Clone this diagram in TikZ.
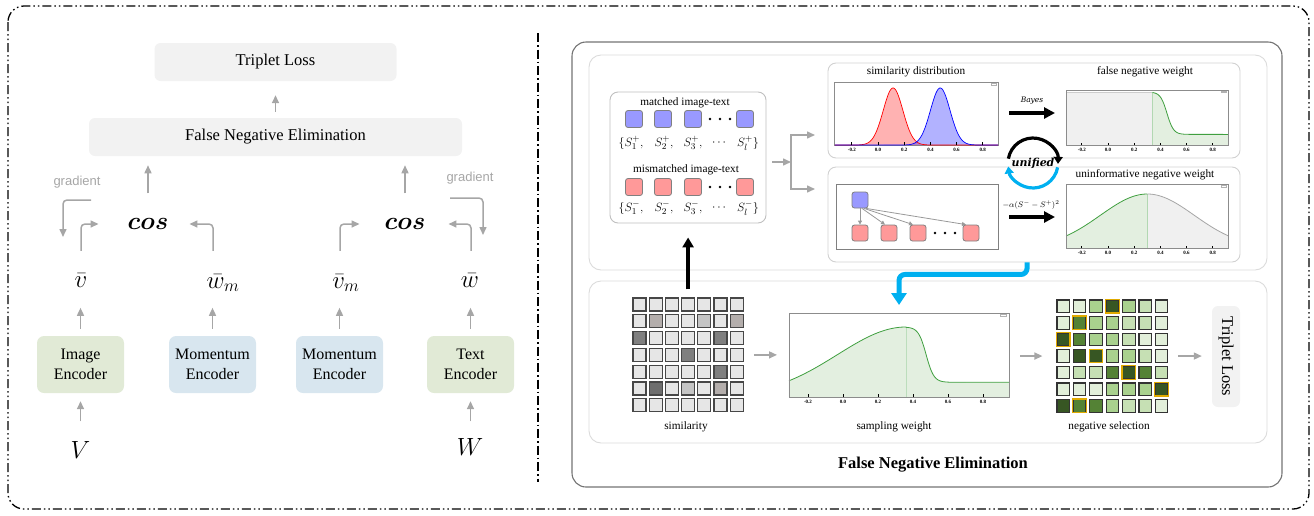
\documentclass[tikz,border=0pt]{standalone}
\usepackage{bm}
\usepackage{fontspec}
\setmainfont{Liberation Serif}
\newfontfamily\gradfont{Liberation Sans}
\newfontfamily\dvs{DejaVu Serif}
\usetikzlibrary{arrows.meta,calc}
\definecolor{agray}{HTML}{A6A6A6}
\definecolor{boxg}{HTML}{F2F2F2}
\definecolor{encg}{HTML}{E1EAD6}
\definecolor{encb}{HTML}{D8E6EF}
\definecolor{sqb}{HTML}{9999FF}
\definecolor{sqr}{HTML}{FF9999}
\definecolor{sqborder}{HTML}{808080}
\definecolor{cyanc}{HTML}{00B0F0}
\definecolor{lgfill}{HTML}{E3EFE0}
\definecolor{gline}{HTML}{3F9F3F}
\definecolor{gA}{HTML}{E2EFDA}
\definecolor{gB}{HTML}{C6E0B4}
\definecolor{gC}{HTML}{A9D18E}
\definecolor{gD}{HTML}{548235}
\definecolor{gE}{HTML}{375623}
\definecolor{sel}{HTML}{E0AA00}
\definecolor{cL}{HTML}{E6E6E6}
\definecolor{cM}{HTML}{B4AEAC}
\definecolor{cN}{HTML}{C4C4C4}
\definecolor{cD}{HTML}{7F7F7F}
\definecolor{cE}{HTML}{6E6E6E}
\tikzset{
 gbox/.style={rounded corners=6pt, fill=boxg, inner sep=0pt},
 encbox/.style={rounded corners=7pt, minimum width=87pt, minimum height=57pt, inner sep=0pt, align=center, font=\fontsize{16}{20}\selectfont},
 garrow/.style={draw=agray, line width=1.5pt, -{Triangle[length=8pt,width=7pt]}},
 mathlab/.style={font=\fontsize{24}{28}\selectfont, inner sep=1pt},
 gradlab/.style={font=\gradfont\fontsize{13}{15}\selectfont, text=agray},
 sqbox/.style={draw=sqborder, line width=0.8pt, rounded corners=2.5pt, minimum size=17pt, inner sep=0pt},
 bsq/.style={sqbox, fill=sqb},
 rsq/.style={sqbox, fill=sqr},
 tbsq/.style={sqbox, fill=sqb, minimum size=16pt},
 trsq/.style={sqbox, fill=sqr, minimum size=16pt},
 panelbox/.style={draw=black!14, line width=0.9pt, rounded corners=12pt},
 chartbox/.style={draw=black!18, line width=0.9pt, rounded corners=8pt, inner sep=0pt},
 ctitle/.style={font=\fontsize{11.3}{13}\selectfont},
 slab/.style={font=\fontsize{13}{15}\selectfont, inner sep=0pt},
 tickl/.style={font=\bfseries\fontsize{5}{6}\selectfont, anchor=north, inner sep=2.5pt},
 pframe/.style={draw=black!45, line width=0.6pt},
 bigarrow/.style={line width=4.5pt, -{Triangle[length=11pt,width=11pt]}},
 tarrow/.style={draw=black!40, line width=0.8pt, -{Triangle[length=4pt,width=4pt]}},
 scell/.style={draw=black!72, line width=1.1pt, minimum size=13pt, inner sep=0pt},
 ncell/.style={draw=black!80, line width=1.1pt, minimum size=12.5pt, inner sep=0pt},
}
\newcommand\plotticks[1]{\foreach \tk/\lab in {-0.2/-0.2,0/0.0,0.2/0.2,0.4/0.4,0.6/0.6,0.8/0.8}{\draw[black, line width=0.8pt] (\tk,0) -- (\tk,#1); \node[tickl] at (\tk,0) {\lab};}}
\begin{document}
\begin{tikzpicture}[x=1pt,y=-1pt]
\useasboundingbox (0,0) rectangle (1314,515);
% outer border and divider
\draw[line width=1.3pt, dash pattern=on 9pt off 3pt on 1.5pt off 3pt on 1.5pt off 3pt, rounded corners=16pt] (8,6) rectangle (1309,509);
\draw[line width=1.2pt, dash pattern=on 9pt off 3pt on 1.5pt off 3pt] (538,33) -- (538,482);

% ---------------- left panel ----------------
\node[gbox, minimum width=242pt, minimum height=38pt, font=\fontsize{16.5}{20}\selectfont] (tl) at (275.5,62) {Triplet Loss};
\node[gbox, minimum width=373pt, minimum height=38pt, font=\fontsize{16.5}{20}\selectfont] (fne) at (275.5,137) {False Negative Elimination};
\draw[garrow] ([yshift=6pt]fne.north) -- ([yshift=-14pt]tl.south);

\node[mathlab] (cosL) at (148,224) {$\bm{cos}$};
\node[mathlab] (cosR) at (405,224) {$\bm{cos}$};
\draw[garrow] ([yshift=24pt]cosL.north) -- ++(0,-28);
\draw[garrow] ([yshift=24pt]cosR.north) -- ++(0,-28);

\node[gradlab] (gradL) at (77,182) {gradient};
\node[gradlab] (gradR) at (470,178) {gradient};
\draw[garrow, rounded corners=4pt] ([xshift=14pt,yshift=-18pt]gradL.center) -| ++(-28,37);
\draw[garrow, rounded corners=4pt] ([xshift=-20pt,yshift=-20pt]gradR.center) -| ++(33,37);

\node[mathlab] (vb) at (81,281) {$\bar{v}$};
\node[mathlab] (wm) at (223,283) {$\bar{w}_m$};
\node[mathlab] (vm) at (346,283) {$\bar{v}_m$};
\node[mathlab] (wb) at (470,281) {$\bar{w}$};
\draw[garrow, rounded corners=4pt] ([yshift=22pt]vb.north) |- ([xshift=-28pt]cosL.west);
\draw[garrow, rounded corners=4pt] ([xshift=-10pt,yshift=22pt]wm.north) |- ([xshift=20pt]cosL.east);
\draw[garrow, rounded corners=4pt] ([xshift=-6pt,yshift=22pt]vm.north) |- ([xshift=-24pt]cosR.west);
\draw[garrow, rounded corners=4pt] ([xshift=1pt,yshift=22pt]wb.north) |- ([xshift=22pt]cosR.east);

\node[encbox, fill=encg] (ienc) at (80.5,364.5) {Image\\Encoder};
\node[encbox, fill=encb] (menc1) at (212.5,364.5) {Momentum\\Encoder};
\node[encbox, fill=encb] (menc2) at (339.5,364.5) {Momentum\\Encoder};
\node[encbox, fill=encg] (tenc) at (470.5,364.5) {Text\\Encoder};
\foreach \e in {ienc,menc1,menc2,tenc}{\draw[garrow] ([yshift=7pt]\e.north) -- ++(0,-21);}

\node[mathlab] (V) at (80.5,450) {$V$};
\node[mathlab] (W) at (470,447) {$W$};
\draw[garrow, shorten <=19pt, shorten >=8pt] (V.north -| ienc.south) -- (ienc.south);
\draw[garrow, shorten <=16pt, shorten >=8pt] (W.north -| tenc.south) -- (tenc.south);

% ---------------- right panel ----------------
\draw[draw=black!55, line width=1.1pt, rounded corners=14pt] (572,42) rectangle (1282,487);
\node[font=\bfseries\fontsize{16.5}{20}\selectfont] (fnet) at (933,465) {False Negative Elimination};
\draw[panelbox] (589,55) rectangle (1267,270);
\draw[panelbox] (589,281) rectangle (1267,443);

% matched / mismatched
\node[draw=black!25, line width=0.9pt, rounded corners=8pt, minimum width=156pt, minimum height=131pt, inner sep=0pt] (mbox) at (688,157.5) {};
\node[ctitle] (mtit) at (685,103) {matched image-text};
\node[ctitle] (mmtit) at (686,170) {mismatched image-text};
\foreach \x [count=\k] in {634,663,693,745}{\node[bsq] (bs\k) at (\x,119) {}; \node[rsq] (rs\k) at (\x,187) {};}
\foreach \x in {710,720,730}{\fill (\x,119) circle (1.4); \fill (\x,187) circle (1.4);}
\node[slab] (p1) at (631,143) {$\{S_1^+,$};
\node[slab] (p2) at (664,143) {$S_2^+,$};
\node[slab] (p3) at (693,143) {$S_3^+,$};
\node[slab] (p4) at (719,143) {$\cdots$};
\node[slab] (p5) at (748,143) {$S_l^+\}$};
\node[slab] (n1) at (631,208) {$\{S_1^-,$};
\node[slab] (n2) at (664,208) {$S_2^-,$};
\node[slab] (n3) at (693,208) {$S_3^-,$};
\node[slab] (n4) at (719,208) {$\cdots$};
\node[slab] (n5) at (748,208) {$S_l^-\}$};

% split arrow
\coordinate (split) at (791,162);
\draw[garrow] (split -| mbox.east) ++(6,0) -- (split);
\draw[garrow] (split) |- ++(24,-27);
\draw[garrow] (split) |- ++(24,27);

% chart boxes
\node[chartbox, minimum width=412pt, minimum height=95pt] (tcb) at (1034,110.5) {};
\node[chartbox, minimum width=412pt, minimum height=95pt] (bcb) at (1034,214.5) {};
\node[ctitle] (t1) at (916,72) {similarity distribution};
\node[ctitle] (t2) at (1145,72) {false negative weight};
\node[ctitle] (t3) at (1145,175) {uninformative negative weight};

% similarity distribution plot
\begin{scope}[shift={(878,145)}, xscale=131, yscale=-57]
 \draw[pframe] (-0.33,0) rectangle (0.917,1.105);
 \draw[black!30, line width=0.3pt] (0.86,1.08) rectangle (0.9,1.05);
 \fill[red, fill opacity=0.3] (-0.33,0) -- plot[domain=-0.2:0.43, samples=70, smooth] (\x,{exp(0-((\x-0.115)^2)/0.01125)}) -- (0.917,0) -- cycle;
 \fill[blue, fill opacity=0.3] (-0.33,0) -- plot[domain=0.16:0.79, samples=70, smooth] (\x,{exp(0-((\x-0.475)^2)/0.01125)}) -- (0.917,0) -- cycle;
 \draw[red, line width=0.7pt] (-0.33,0) -- plot[domain=-0.2:0.43, samples=70, smooth] (\x,{exp(0-((\x-0.115)^2)/0.01125)}) -- (0.917,0);
 \draw[blue, line width=0.7pt] (-0.33,0) -- plot[domain=0.16:0.79, samples=70, smooth] (\x,{exp(0-((\x-0.475)^2)/0.01125)}) -- (0.917,0);
 \plotticks{0.044}
\end{scope}

% false negative weight plot
\begin{scope}[shift={(1108,145)}, xscale=131, yscale=-53]
 \fill[black!6] (-0.32,0) rectangle (0.34,1);
 \fill[lgfill] (0.34,0) -- plot[domain=0.34:0.62, samples=40, smooth] (\x,{0.2+0.8/(1+exp((\x-0.45)/0.025))}) -- (0.916,0.2) -- (0.916,0) -- cycle;
 \draw[black!20, line width=0.6pt] (-0.32,1) -- (0.34,1);
 \draw[gline!40, line width=0.5pt] (0.34,0) -- (0.34,1);
 \draw[gline, line width=0.8pt] plot[domain=0.34:0.62, samples=40, smooth] (\x,{0.2+0.8/(1+exp((\x-0.45)/0.025))}) -- (0.916,0.2);
 \draw[pframe] (-0.32,0) rectangle (0.916,1.04);
 \draw[black!30, line width=0.3pt] (0.86,1.02) rectangle (0.9,0.99);
 \plotticks{0.047}
\end{scope}

% uninformative negative weight plot
\begin{scope}[shift={(1108,248)}, xscale=131, yscale=-54]
 \fill[lgfill] (-0.32,0) -- plot[domain=-0.32:0.3, samples=40, smooth] (\x,{exp(0-3.9*(\x-0.3)^2)}) -- (0.3,0) -- cycle;
 \fill[black!6] (0.3,0) -- plot[domain=0.3:0.916, samples=40, smooth] (\x,{exp(0-3.9*(\x-0.3)^2)}) -- (0.916,0) -- cycle;
 \draw[gline!40, line width=0.5pt] (0.3,0) -- (0.3,1);
 \draw[gline, line width=0.8pt] plot[domain=-0.32:0.3, samples=40, smooth] (\x,{exp(0-3.9*(\x-0.3)^2)});
 \draw[black!35, line width=0.8pt] plot[domain=0.3:0.916, samples=40, smooth] (\x,{exp(0-3.9*(\x-0.3)^2)});
 \draw[pframe] (-0.32,0) rectangle (0.916,1.185);
 \draw[black!30, line width=0.3pt] (0.86,1.16) rectangle (0.9,1.13);
 \plotticks{0.046}
\end{scope}

% tree
\node[draw=black!50, line width=0.8pt, minimum width=162pt, minimum height=65pt, inner sep=0pt] (tree) at (917,216.5) {};
\node[tbsq] (tb) at (860,200) {};
\node[trsq] (tr1) at (860,233) {};
\node[trsq] (tr2) at (889,233) {};
\node[trsq] (tr3) at (918,233) {};
\node[trsq] (tr4) at (971,233) {};
\foreach \x in {935,945,955}{\fill (\x,233) circle (1.4);}
\draw[tarrow] (tb.south) -- (tr1.north);
\draw[tarrow] ([xshift=2pt]tb.south) -- ([xshift=-4pt]tr2.north);
\draw[tarrow] ([xshift=4pt]tb.south) -- ([xshift=-5pt]tr3.north);
\draw[tarrow] ([xshift=6pt]tb.south) -- ([xshift=-5pt]tr4.north);

% Bayes / formula arrows
\node[font=\dvs\itshape\fontsize{7.5}{9}\selectfont] (bayes) at (1032,101) {Bayes};
\draw[bigarrow] ([xshift=-23pt,yshift=-12pt]bayes.center) -- ([xshift=23pt,yshift=-12pt]bayes.center);
\node[font=\fontsize{8}{10}\selectfont] (form) at (1031,205) {$-\alpha(S^- - S^+)^2$};
\draw[bigarrow] ([xshift=-22pt,yshift=-12pt]form.center) -- ([xshift=24pt,yshift=-12pt]form.center);

% unified cycle
\node[font=\dvs\bfseries\itshape\fontsize{11}{13}\selectfont] (unif) at (1033,163) {unified};
\draw[line width=3.2pt, -{Triangle[length=7pt,width=9pt]}] (unif.center) ++(-170:25) arc[start angle=-170, end angle=2, radius=25];
\draw[cyanc, line width=3.2pt, -{Triangle[length=7pt,width=9pt]}] (unif.center) ++(10:25) arc[start angle=10, end angle=172, radius=25];

% cyan connector
\coordinate (cyT) at (899,305);
\draw[cyanc, line width=5pt, rounded corners=6pt, -{Triangle[length=12pt,width=15pt]}] ([xshift=-7pt]bcb.south) -- ++(0,12) -| (cyT);

% similarity grid
\foreach \row [count=\ri] in {{cL,cL,cL,cL,cL,cL,cL},{cL,cM,cL,cL,cN,cL,cM},{cD,cL,cL,cL,cL,cD,cL},{cL,cL,cL,cD,cL,cL,cL},{cL,cL,cL,cL,cL,cD,cL},{cL,cE,cL,cN,cL,cM,cL},{cL,cL,cL,cL,cL,cL,cL}}{
  \foreach \cc [count=\cj] in \row {
    \node[scell, fill=\cc] (sg-\ri-\cj) at ({639.5+(\cj-1)*16.2},{304.5+(\ri-1)*16.8}) {};
  }
}
\node[ctitle] (simlab) at (686,427) {similarity};
\draw[line width=3.5pt, -{Triangle[length=10pt,width=11pt]}, shorten <=8pt, shorten >=14pt] (sg-1-4.north) -- (sg-1-4.north |- mbox.south);

% sampling weight plot
\coordinate (swL) at (789,357);
\coordinate (swR) at (1008,357);
\begin{scope}[shift={(843,397)}, xscale=175, yscale=-70]
 \fill[lgfill] (-0.309,0) -- plot[domain=-0.309:0.36, samples=50, smooth] (\x,{exp(0-3.27*(\x-0.36)^2)}) -- plot[domain=0.36:0.62, samples=40, smooth] (\x,{0.21+0.79/(1+exp((\x-0.475)/0.022))}) -- (0.949,0.21) -- (0.949,0) -- cycle;
 \draw[gline!35, line width=0.5pt] (0.36,0) -- (0.36,1);
 \draw[gline, line width=0.8pt] plot[domain=-0.309:0.36, samples=50, smooth] (\x,{exp(0-3.27*(\x-0.36)^2)}) -- plot[domain=0.36:0.62, samples=40, smooth] (\x,{0.21+0.79/(1+exp((\x-0.475)/0.022))}) -- (0.949,0.21);
 \draw[pframe] (-0.309,0) rectangle (0.949,1.2);
 \draw[black!30, line width=0.3pt] (0.9,1.18) rectangle (0.93,1.155);
 \plotticks{0.036}
\end{scope}
\node[ctitle] (swlab) at (894,427) {sampling weight};

% negative selection grid
\foreach \row [count=\ri] in {{gA,gA,gC,gE,gC,gB,gA},{gA,gD,gC,gC,gB,gB,gA},{gE,gD,gC,gC,gB,gA,gA},{gA,gE,gE,gC,gC,gB,gA},{gA,gB,gB,gD,gE,gD,gB},{gA,gA,gA,gC,gC,gC,gE},{gE,gD,gD,gC,gB,gB,gA}}{
  \foreach \cc [count=\cj] in \row {
    \node[ncell, fill=\cc] (ng-\ri-\cj) at ({1063.25+(\cj-1)*16.4},{306.25+(\ri-1)*16.6}) {};
  }
}
\foreach \ri/\cj in {1/4,2/2,3/1,4/3,5/5,6/7,7/2}{\draw[sel, line width=1.2pt] (ng-\ri-\cj.north west) rectangle (ng-\ri-\cj.south east);}
\node[ctitle] (nslab) at (1109,427) {negative selection};

% vertical triplet loss
\node[gbox, rotate=-90, minimum width=101pt, minimum height=28pt, font=\fontsize{16.5}{20}\selectfont] (tl2) at (1226,356.5) {Triplet Loss};

% bottom arrows
\draw[garrow, shorten <=10pt, shorten >=12pt] (sg-4-7.east) -- (sg-4-7.east -| swL);
\draw[garrow, shorten <=12pt, shorten >=14pt] (ng-4-1.west -| swR) -- (ng-4-1.west);
\draw[garrow, shorten <=10pt, shorten >=10pt] (ng-4-7.east) -- (ng-4-7.east -| tl2.south);
\end{tikzpicture}
\end{document}
